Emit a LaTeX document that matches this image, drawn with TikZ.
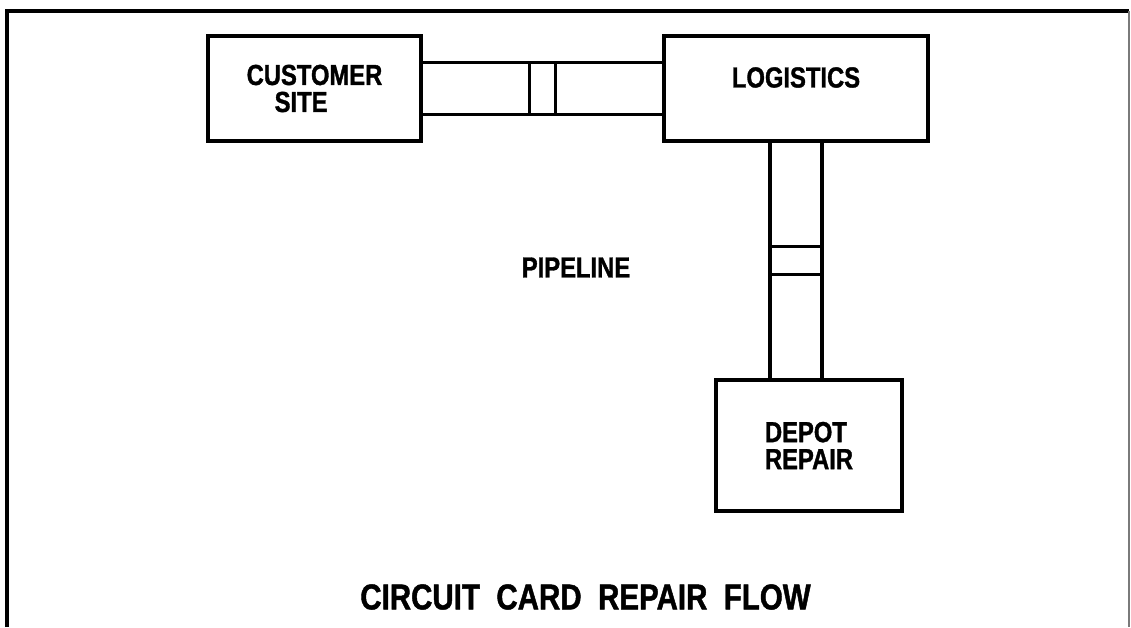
\documentclass[tikz,border=0pt]{standalone}
\usepackage{fontspec}
\setmainfont[FakeStretch=0.82, BoldFeatures={FakeBold=1.2}]{Liberation Sans}
\usepackage{xcolor}
\usepackage{tikz}
\usetikzlibrary{positioning}
\definecolor{framegray}{HTML}{7A7A7A}

\tikzset{
  blockbox/.style={draw, line width=3.6pt, inner sep=0pt, align=left,
    font=\bfseries\fontsize{29}{27}\selectfont},
  blocktext/.style={inner sep=0pt, font=\bfseries\fontsize{29}{27}\selectfont},
  pipewall/.style={line width=3.8pt},
}

\begin{document}
\begin{tikzpicture}[x=1pt, y=-1pt]
    \useasboundingbox (0,0) rectangle (1131,627);
    % outer frame, open at the bottom
    \draw[line width=3.6pt] (7,627) -- (7,11) -- (1129,11);
    \draw[line width=1.6pt, framegray] (1129,11) -- (1129,627);

    \node[blockbox, minimum width=213pt, minimum height=105pt] (cust) at (314.5,88.5)
      {CUSTOMER\\\hspace*{28pt}SITE};
    \node[blockbox, minimum width=264pt, minimum height=105pt] (logi) at (796,88.5) {};
    \node[blocktext] (logitext) at ([yshift=11pt]logi.center) {LOGISTICS};
    \node[blockbox, minimum width=186pt, minimum height=131pt] (depot) at (809,445.5)
      {DEPOT\\REPAIR};

    % pipe from customer site to logistics
    \coordinate (htop) at ([yshift=26pt]cust.east);
    \coordinate (hbot) at ([yshift=-26pt]cust.east);
    \draw[pipewall] (htop) -- (htop -| logi.west);
    \draw[pipewall] (hbot) -- (hbot -| logi.west);
    \draw[pipewall] (529.5,0 |- htop) -- (529.5,0 |- hbot);
    \draw[pipewall] (555.5,0 |- htop) -- (555.5,0 |- hbot);

    % pipe from logistics to depot repair
    \coordinate (vleft) at ([xshift=-26pt]logi.south);
    \coordinate (vright) at ([xshift=26pt]logi.south);
    \draw[pipewall] (vleft) -- (vleft |- depot.north);
    \draw[pipewall] (vright) -- (vright |- depot.north);
    \draw[pipewall] (vleft |- 0,246.5) -- (vright |- 0,246.5);
    \draw[pipewall] (vleft |- 0,274.5) -- (vright |- 0,274.5);

    \node[blocktext] (pipeline) at (576,267.5) {PIPELINE};
    \node[inner sep=0pt, font=\bfseries\fontsize{36}{38}\selectfont] (title) at (585.5,597)
      {CIRCUIT\ \ CARD\ \ REPAIR\ \ FLOW};
  \end{tikzpicture}
\end{document}
